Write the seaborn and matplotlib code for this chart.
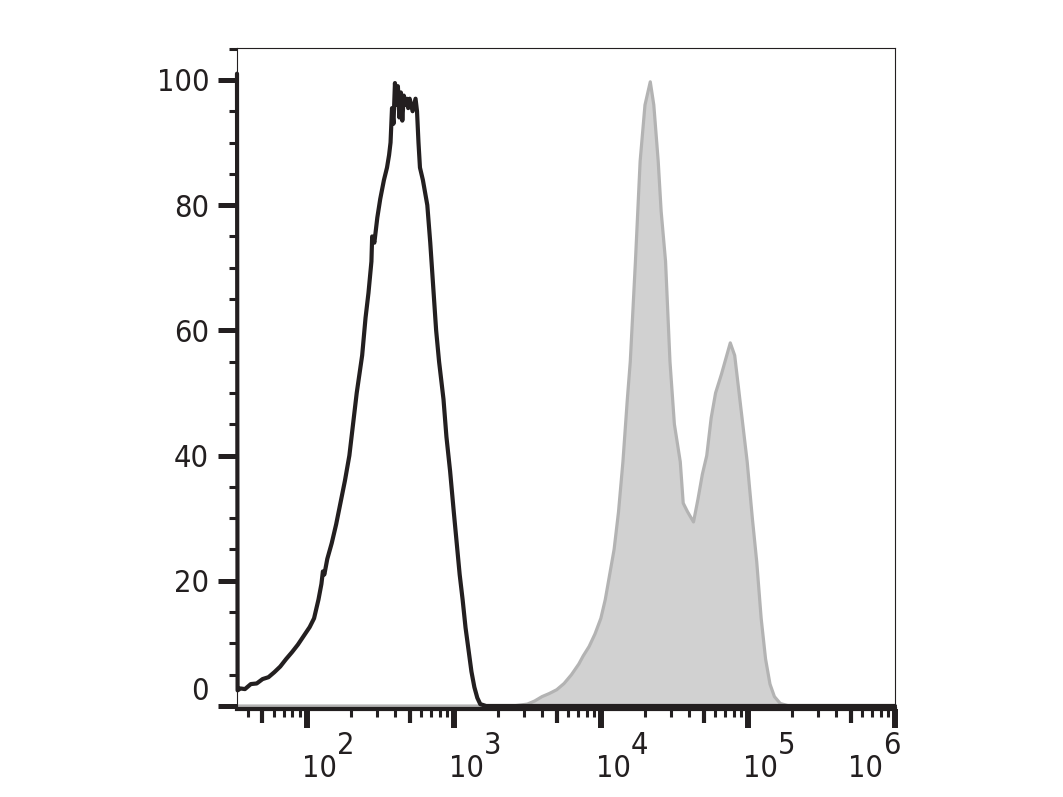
import numpy as np
import pandas as pd
import matplotlib
matplotlib.use('Agg')
import matplotlib.pyplot as plt
import seaborn as sns

# histogram readings: log10 of fluorescence channel, % of max
unstained_log = [1.526, 1.530, 1.55, 1.58, 1.62, 1.66, 1.70, 1.74, 1.78, 1.82, 1.86, 1.90,
                 1.94, 1.98, 2.02, 2.05, 2.08, 2.10, 2.11, 2.12, 2.14, 2.17, 2.20, 2.23,
                 2.26, 2.29, 2.31, 2.34, 2.377, 2.40, 2.42, 2.44, 2.445, 2.46, 2.48, 2.50,
                 2.525, 2.546, 2.56, 2.57, 2.58, 2.59, 2.60, 2.61, 2.62, 2.63, 2.64, 2.65,
                 2.66, 2.67, 2.68, 2.69, 2.70, 2.72, 2.74, 2.75, 2.76, 2.77, 2.79, 2.82,
                 2.84, 2.86, 2.88, 2.90, 2.93, 2.95, 2.975, 3.00, 3.02, 3.04, 3.06, 3.08,
                 3.10, 3.12, 3.14, 3.16, 3.18, 3.22, 6.0]
unstained_pct = [101, 2.5, 2.8, 2.7, 3.5, 3.6, 4.3, 4.6, 5.4, 6.3, 7.5, 8.6,
                 9.8, 11.2, 12.6, 14, 17, 19.5, 21.5, 21, 23.5, 26, 29, 32.5,
                 36, 40, 44, 50, 56, 62, 66, 71, 75, 74, 78, 81,
                 84, 86, 88, 90, 95.5, 93, 99.5, 96, 99, 94, 98, 93.5,
                 97.5, 96, 97, 95.5, 97, 95, 97, 95, 90, 86, 84, 80,
                 74, 67, 60, 55, 49, 43, 37.5, 31, 26, 21, 17, 12.5,
                 9, 5.5, 3, 1.3, 0.3, 0, 0]

stained_log = [1.526, 3.40, 3.50, 3.55, 3.60, 3.65, 3.70, 3.75, 3.80, 3.85, 3.88, 3.92,
               3.96, 4.00, 4.03, 4.06, 4.09, 4.12, 4.15, 4.18, 4.20, 4.235, 4.267, 4.30,
               4.336, 4.36, 4.39, 4.41, 4.44, 4.47, 4.50, 4.54, 4.56, 4.59, 4.63, 4.66,
               4.69, 4.72, 4.75, 4.78, 4.82, 4.85, 4.88, 4.91, 4.94, 4.97, 4.995, 5.03,
               5.06, 5.09, 5.12, 5.15, 5.18, 5.22, 5.28, 6.0]
stained_pct = [0, 0, 0.3, 0.8, 1.5, 2, 2.6, 3.6, 5, 6.7, 8, 9.5,
               11.5, 14, 17, 21, 25, 31, 39, 49, 55, 71, 87, 96,
               99.7, 96, 87, 79, 71, 55, 45, 39, 32.4, 31, 29.4, 33,
               37, 40, 46, 50, 53, 55.5, 58, 56, 50, 44, 39, 30,
               23, 14, 7.5, 3.5, 1.5, 0.4, 0, 0]

decades = [2, 3, 4, 5, 6]
y_major = [0, 20, 40, 60, 80, 100]

ink = '#231f20'
sns.set_theme(style='ticks')
plt.rcParams['font.family'] = ['DejaVu Sans']
plt.rcParams['font.stretch'] = 'condensed'

W, H = 1063, 797
fig = plt.figure(figsize=(W / 100, H / 100), dpi=100)
ax = fig.add_axes([237 / W, 1 - 709 / H, (895 - 237) / W, (709 - 48) / H])
ax.set_xscale('log')

d1 = pd.DataFrame({'x': 10 ** np.array(unstained_log), 'y': unstained_pct})
d2 = pd.DataFrame({'x': 10 ** np.array(stained_log), 'y': stained_pct})

ax.fill_between(d2.x, d2.y, color='#d1d1d1', lw=0, zorder=1)
sns.lineplot(data=d2, x='x', y='y', ax=ax, color='#b3b3b3', lw=2.3,
             sort=False, estimator=None, zorder=2)
sns.lineplot(data=d1, x='x', y='y', ax=ax, color=ink, lw=3,
             sort=False, estimator=None, zorder=3, clip_on=False)

ax.set_xlim(10 ** 1.526, 1e6)
ax.set_ylim(-0.48, 105.1)
ax.set_xlabel('')
ax.set_ylabel('')

# x ticks: decades (long), 2-9 (short), 5 (medium via secondary axis)
ax.set_xticks([10.0 ** k for k in decades])
ax.set_xticklabels([])
lo = 10 ** 1.526
minor = [m * 10.0 ** k for k in range(1, 6) for m in (2, 3, 4, 6, 7, 8, 9)]
ax.set_xticks([v for v in minor if v >= lo], minor=True)
ax.tick_params(axis='x', which='major', length=14, width=4.3, color=ink)
ax.tick_params(axis='x', which='minor', length=6, width=2.2, color=ink)
sec = ax.secondary_xaxis('bottom')
sec.set_xticks([5 * 10.0 ** k for k in range(1, 6)])
sec.set_xticklabels([])
sec.tick_params(length=10, width=3, color=ink)
sec.spines['bottom'].set_visible(False)

ax.set_yticks(y_major)
ax.set_yticks(np.arange(5, 106, 5), minor=True)
ax.set_yticklabels([str(v) for v in y_major], fontsize=22, color=ink)
ax.tick_params(axis='y', which='major', length=13.5, width=3.6, color=ink, pad=6.5)
ax.tick_params(axis='y', which='minor', length=6, width=2.2, color=ink)
for lab in ax.get_yticklabels():
    if lab.get_text() == '0':
        lab.set_va('bottom')

for side in ['top', 'right', 'left']:
    ax.spines[side].set_visible(True)
    ax.spines[side].set_linewidth(0.8)
    ax.spines[side].set_color(ink)
ax.spines['bottom'].set_linewidth(3)
ax.spines['bottom'].set_color(ink)

# decade labels: "10" with a full-size raised exponent
for k in decades:
    j = -12 if k == 6 else 30
    ax.annotate('10', xy=(10.0 ** k, 0), xycoords=('data', 'axes fraction'),
                xytext=(j, -68), textcoords='offset pixels', ha='right', va='baseline',
                fontsize=22, color=ink)
    ax.annotate(str(k), xy=(10.0 ** k, 0), xycoords=('data', 'axes fraction'),
                xytext=(j, -45), textcoords='offset pixels', ha='left', va='baseline',
                fontsize=22, color=ink)

fig.savefig('out.png', dpi=100)
